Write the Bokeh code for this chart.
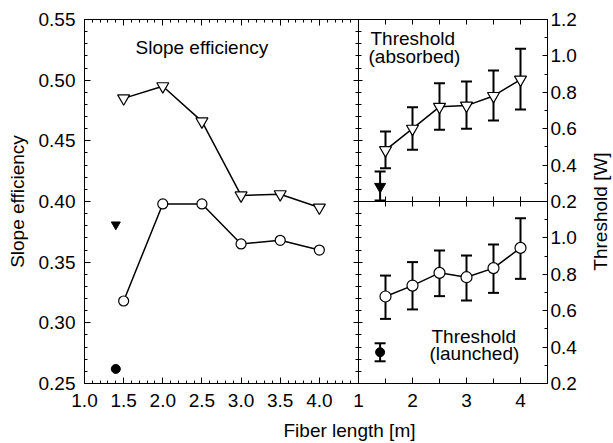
import math
from bokeh.plotting import figure
from bokeh.models import (Range1d, LinearAxis, FixedTicker, NumeralTickFormatter,
                          CustomJSTickFormatter, Label, Whisker, TeeHead,
                          ColumnDataSource)
from bokeh.embed import file_html
from bokeh.resources import INLINE

# ---------------- data ----------------
fiber_length = [1.5, 2.0, 2.5, 3.0, 3.5, 4.0]
slope_absorbed = [0.485, 0.495, 0.466, 0.405, 0.406, 0.395]
slope_launched = [0.318, 0.398, 0.398, 0.365, 0.368, 0.360]
ref_length = [1.4]
ref_slope_absorbed = [0.381]
ref_slope_launched = [0.262]

thr_absorbed = [0.482, 0.600, 0.720, 0.727, 0.780, 0.870]
thr_absorbed_hi = [0.585, 0.718, 0.850, 0.859, 0.920, 1.039]
thr_absorbed_lo = [0.383, 0.484, 0.594, 0.600, 0.645, 0.705]
ref_thr_absorbed = [0.282]
ref_thr_absorbed_hi = [0.365]
ref_thr_absorbed_lo = [0.205]

thr_launched = [0.678, 0.738, 0.808, 0.784, 0.834, 0.945]
thr_launched_hi = [0.793, 0.867, 0.931, 0.903, 0.964, 1.108]
thr_launched_lo = [0.555, 0.607, 0.680, 0.656, 0.698, 0.775]
ref_thr_launched = [0.372]
ref_thr_launched_hi = [0.421]
ref_thr_launched_lo = [0.322]

# tick values
left_x_ticks = [1.0, 1.5, 2.0, 2.5, 3.0, 3.5, 4.0]
left_y_ticks = [0.25, 0.30, 0.35, 0.40, 0.45, 0.50, 0.55]
right_x_ticks = [1, 2, 3, 4]
right_top_y_ticks = [0.2, 0.4, 0.6, 0.8, 1.0, 1.2]
right_bot_y_ticks = [0.2, 0.4, 0.6, 0.8, 1.0]

left_x_minor = [round(1.0 + 0.1 * i, 2) for i in range(36)]
left_y_minor = [round(0.25 + 0.01 * i, 2) for i in range(31)]
right_x_minor = [1.5, 2.5, 3.5, 4.5]
right_y_minor = [0.3, 0.5, 0.7, 0.9, 1.1]

# ---------------- layout (pixels) ----------------
FONT = "Liberation Sans"
FS = "19px"
CW, CH = 613, 443                 # canvas
B_L, B_T = 84, 19                 # panel origin
W_L, W_R, H = 274, 189, 364       # panel widths / total height
KX_L = W_L / 3.5                  # px per unit, left panel x
KX_R = W_R / 3.5                  # px per unit, right panels x
KY_L = H / 0.3                    # px per unit, left panel y
KY_R = (H / 2) / 1.0              # px per unit, right panels y
Y_MID = B_T + H / 2
Y_BOT = B_T + H

x_left = Range1d(1.0 - B_L / KX_L, 1.0 + (CW - B_L) / KX_L)
x_right = Range1d(1.0 - (B_L + W_L) / KX_R, 1.0 + (CW - B_L - W_L) / KX_R)
y_left = Range1d(0.25 - (CH - Y_BOT) / KY_L, 0.55 + B_T / KY_L)
y_top = Range1d(0.2 - (CH - Y_MID) / KY_R, 1.2 + B_T / KY_R)
y_bot = Range1d(0.2 - (CH - Y_BOT) / KY_R, 0.2 + Y_BOT / KY_R)
SPLIT = 4.5
RATIO = W_L / W_R


# pixel -> range helpers for text placement
def lx(px): return 1.0 + (px - B_L) / KX_L
def rx(px): return 1.0 + (px - B_L - W_L) / KX_R
def ly(py): return 0.55 - (py - B_T) / KY_L
def ty(py): return 1.2 - (py - B_T) / KY_R
def by(py): return 0.2 + (Y_BOT - py) / KY_R


p = figure(width=CW, height=CH, x_range=x_left, y_range=y_left,
           x_axis_location=None, y_axis_location=None,
           output_backend="svg", toolbar_location=None,
           min_border_left=0, min_border_right=0,
           min_border_top=0, min_border_bottom=0)
p.extra_x_ranges = {"right": x_right}
p.extra_y_ranges = {"top": y_top, "bot": y_bot}
p.xgrid.visible = False
p.ygrid.visible = False
p.outline_line_color = None
p.background_fill_color = "white"
p.border_fill_color = "white"


def axis(side, labels=True, tin=6, tmin=3, tout=0, mout=0, standoff=10, **kw):
    ax = LinearAxis(**kw)
    ax.axis_line_color = "black"
    ax.axis_line_width = 1
    ax.major_tick_line_color = "black"
    ax.minor_tick_line_color = "black"
    ax.major_tick_in = tin
    ax.minor_tick_in = tmin
    ax.major_tick_out = tout
    ax.minor_tick_out = mout
    ax.major_label_text_font = FONT
    ax.major_label_text_font_size = FS
    ax.major_label_standoff = standoff
    ax.major_label_text_color = "black" if labels else None
    p.add_layout(ax, side)
    return ax


# ---- left panel ----
axis("left", standoff=9, fixed_location=1.0, bounds=(0.25, 0.55),
     ticker=FixedTicker(ticks=left_y_ticks, minor_ticks=left_y_minor),
     formatter=NumeralTickFormatter(format="0.00"))
axis("right", labels=False, tin=5, tmin=3, tout=4, mout=3,
     fixed_location=4.5, bounds=(0.25, 0.55),
     ticker=FixedTicker(ticks=left_y_ticks, minor_ticks=left_y_minor))
axis("above", labels=False, fixed_location=0.55, bounds=(1.0, 4.5),
     ticker=FixedTicker(ticks=left_x_ticks, minor_ticks=left_x_minor))

# bottom: tick labels of both panels (left panel units)
bottom_ticks = left_x_ticks + [SPLIT + (v - 1) / RATIO for v in right_x_ticks]
axis("below", fixed_location=0.25, bounds=(1.0, SPLIT + 3.5 / RATIO),
     ticker=FixedTicker(ticks=bottom_ticks, minor_ticks=left_x_minor),
     formatter=CustomJSTickFormatter(args=dict(split=SPLIT, ratio=RATIO), code="""
if (tick < split - 1e-6) { return tick.toFixed(1); }
return (1 + (tick - split) * ratio).toFixed(0);
"""))

# ---- right panels ----
for loc, side in [(0.25, "below"), (0.55, "above"), (0.40, "below"), (0.40, "above")]:
    axis(side, labels=False, tin=5, tmin=5, x_range_name="right",
         fixed_location=loc, bounds=(1, 4.5),
         ticker=FixedTicker(ticks=right_x_ticks, minor_ticks=right_x_minor))

axis("right", tin=5, tmin=3, standoff=3, x_range_name="right", y_range_name="top",
     fixed_location=4.5, bounds=(0.2, 1.2),
     ticker=FixedTicker(ticks=right_top_y_ticks, minor_ticks=right_y_minor),
     formatter=NumeralTickFormatter(format="0.0"))
axis("right", tin=5, tmin=3, standoff=3, x_range_name="right", y_range_name="bot",
     fixed_location=4.5, bounds=(0.2, 1.2),
     ticker=FixedTicker(ticks=right_bot_y_ticks, minor_ticks=right_y_minor),
     formatter=NumeralTickFormatter(format="0.0"))

# ---------------- left panel glyphs ----------------
p.line(fiber_length, slope_absorbed, line_color="black", line_width=1.5)
p.scatter(fiber_length, slope_absorbed, marker="inverted_triangle", size=12,
          fill_color="white", line_color="black", line_width=1.2)
p.line(fiber_length, slope_launched, line_color="black", line_width=1.5)
p.scatter(fiber_length, slope_launched, marker="circle", size=10,
          fill_color="white", line_color="black", line_width=1.2)
p.scatter(ref_length, ref_slope_absorbed, marker="inverted_triangle", size=9,
          fill_color="black", line_color="black")
p.scatter(ref_length, ref_slope_launched, marker="circle", size=9,
          fill_color="black", line_color="black")


# ---------------- right panel glyphs ----------------
def err(xs, lo, hi, yname):
    src = ColumnDataSource(dict(x=xs, lo=lo, hi=hi))
    w = Whisker(source=src, base="x", lower="lo", upper="hi", dimension="height",
                x_range_name="right", y_range_name=yname,
                line_color="black", line_width=2,
                upper_head=TeeHead(size=11, line_width=2, line_color="black"),
                lower_head=TeeHead(size=11, line_width=2, line_color="black"))
    w.level = "underlay"
    p.add_layout(w)


err(fiber_length, thr_absorbed_lo, thr_absorbed_hi, "top")
err(ref_length, ref_thr_absorbed_lo, ref_thr_absorbed_hi, "top")
err(fiber_length, thr_launched_lo, thr_launched_hi, "bot")
err(ref_length, ref_thr_launched_lo, ref_thr_launched_hi, "bot")

p.line(fiber_length, thr_absorbed, line_color="black", line_width=1.5,
       x_range_name="right", y_range_name="top")
p.scatter(fiber_length, thr_absorbed, marker="inverted_triangle", size=12,
          fill_color="white", line_color="black", line_width=1.2,
          x_range_name="right", y_range_name="top")
p.scatter(ref_length, ref_thr_absorbed, marker="inverted_triangle", size=11,
          fill_color="black", line_color="black",
          x_range_name="right", y_range_name="top")

p.line(fiber_length, thr_launched, line_color="black", line_width=1.5,
       x_range_name="right", y_range_name="bot")
p.scatter(fiber_length, thr_launched, marker="circle", size=11,
          fill_color="white", line_color="black", line_width=1.2,
          x_range_name="right", y_range_name="bot")
p.scatter(ref_length, ref_thr_launched, marker="circle", size=9,
          fill_color="black", line_color="black",
          x_range_name="right", y_range_name="bot")


# ---------------- texts (positioned by their vertical middle) ----------------
def lab(text, x, y, xr="default", yr="default", align="left", angle=0.0):
    p.add_layout(Label(text=text, x=x, y=y, x_range_name=xr, y_range_name=yr,
                       text_font=FONT, text_font_size=FS, text_color="black",
                       text_align=align, text_baseline="middle", angle=angle))


lab("Slope efficiency", lx(135), ly(46.5))
lab("Threshold", rx(370), ty(37.5), xr="right", yr="top")
lab("(absorbed)", rx(368), ty(55.5), xr="right", yr="top")
lab("Threshold", rx(431), by(335.5), xr="right", yr="bot")
lab("(launched)", rx(429), by(352.5), xr="right", yr="bot")
# axis titles
lab("Slope efficiency", lx(17), ly(201), align="center", angle=math.pi / 2)
lab("Fiber length [m]", lx(349), ly(430), align="center")
lab("Threshold [W]", rx(600), ty(211), xr="right", yr="top",
    align="center", angle=math.pi / 2)

open("out.html", "w").write(file_html(p, INLINE))
